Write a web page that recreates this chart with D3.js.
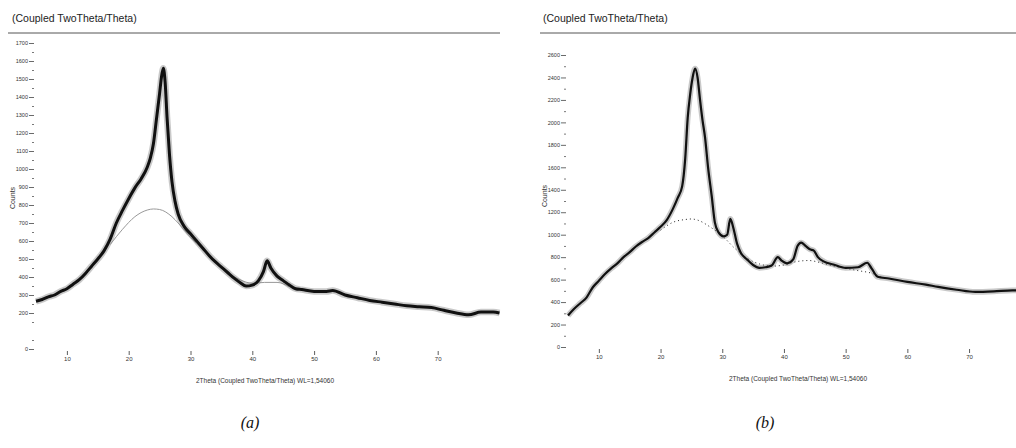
<!DOCTYPE html>
<html>
<head>
<meta charset="utf-8">
<script src="https://cdn.jsdelivr.net/npm/d3@7"></script>
<style>
  body { margin: 0; background: #fff; }
  svg { display: block; }
  text { font-family: "Liberation Sans Narrow", "Liberation Sans", Arial, sans-serif; fill: #222; }
  .caption { font-family: "Liberation Serif", "Times New Roman", serif; font-style: italic; font-size: 16px; fill: #111; }
</style>
</head>
<body>
<svg id="chart" width="1016" height="448"></svg>
<script>
// panel (a) measured pattern
const a_theta = [5, 6, 7, 8, 9, 10, 11, 12, 13, 14, 15, 16, 17, 18, 19, 20, 21, 22, 23, 23.5, 24, 24.5, 25, 25.3, 25.6, 25.9, 26.2, 26.6, 27, 27.5, 28, 29, 30, 31, 32, 33, 34, 35, 36, 37, 38, 39, 40, 41, 41.8, 42.4, 43, 44, 45, 46, 47, 48, 50, 52, 53, 55, 57, 59, 61, 63, 65, 67, 69, 71, 73, 75, 77, 79, 80];
const a_counts = [265, 275, 290, 300, 320, 335, 360, 385, 420, 460, 500, 545, 610, 700, 770, 835, 895, 945, 1010, 1060, 1140, 1280, 1420, 1510, 1560, 1480, 1290, 1080, 930, 820, 750, 680, 640, 600, 560, 520, 485, 455, 425, 395, 370, 350, 355, 380, 430, 490, 450, 405, 380, 355, 335, 330, 320, 320, 325, 300, 285, 270, 260, 250, 240, 235, 230, 215, 200, 190, 205, 205, 200];
// panel (a) amorphous background
const a_bg_theta = [17, 19, 21, 23, 24, 25, 27, 28, 30, 32, 34, 36, 38, 40, 42, 44, 46];
const a_bg_counts = [580, 665, 735, 772, 778, 775, 735, 700, 620, 550, 480, 425, 385, 365, 370, 370, 345];

// panel (b) measured pattern
const b_theta = [5, 6, 7, 8, 9, 10, 11, 12, 13, 14, 15, 16, 17, 18, 19, 20, 21, 22, 22.8, 23.5, 24, 24.4, 24.8, 25.2, 25.6, 26, 26.4, 26.8, 27.2, 27.7, 28.3, 28.8, 29.4, 30.2, 30.8, 31.3, 31.8, 32.4, 33, 34, 35, 36, 37, 38, 39, 39.6, 40.5, 41.5, 42.2, 42.8, 43.5, 44.2, 44.8, 45.5, 46.5, 48, 50, 52, 53.5, 54.2, 55.2, 57, 60, 63, 65, 68, 71, 74, 77, 80];
const b_counts = [280, 340, 390, 440, 530, 590, 650, 700, 745, 800, 845, 895, 935, 970, 1020, 1070, 1130, 1230, 1330, 1430, 1680, 2040, 2250, 2400, 2480, 2400, 2200, 2020, 1870, 1600, 1340, 1110, 1020, 985, 1000, 1140, 1060, 920, 840, 780, 730, 705, 710, 725, 800, 770, 745, 780, 900, 930, 900, 870, 860, 800, 760, 735, 705, 710, 750, 700, 625, 610, 580, 555, 535, 510, 490, 495, 505, 500];
// panel (b) amorphous background
const b_bg_theta = [20, 22, 24, 25, 26, 28, 30, 32, 34, 36, 38, 40, 42, 44, 46, 48, 50, 52, 54, 56];
const b_bg_counts = [1040, 1110, 1135, 1140, 1130, 1070, 990, 880, 790, 740, 720, 730, 760, 770, 750, 720, 700, 680, 660, 620];

const x_ticks = [10, 20, 30, 40, 50, 60, 70];
const a_y_ticks = [0, 200, 300, 400, 500, 600, 700, 800, 900, 1000, 1100, 1200, 1300, 1400, 1500, 1600, 1700];
const b_y_ticks = [0, 200, 400, 600, 800, 1000, 1200, 1400, 1600, 1800, 2000, 2200, 2400, 2600];

const title_text = "(Coupled TwoTheta/Theta)";
const x_title = "2Theta (Coupled TwoTheta/Theta) WL=1,54060";

const svg = d3.select("#chart");
svg.append("rect").attr("width", 1016).attr("height", 448).attr("fill", "#fff");

const draw_panel = (p) => {
  const g = svg.append("g");

  const x = d3.scaleLinear().domain([5, 80]).range([p.x0, p.x0 + 75 * p.xstep]);
  const y = d3.scaleLinear().domain([0, p.ymax]).range([p.ybase, p.ytop]);

  g.append("clipPath").attr("id", "clip-" + p.id)
    .append("rect").attr("x", p.x0 - 5).attr("y", 35).attr("width", 1016 - p.x0 + 5).attr("height", 330);

  // title and rule
  g.append("text").attr("x", p.title_x).attr("y", 22)
    .style("font-size", "10.5px").text(title_text);
  g.append("line")
    .attr("x1", p.rule_x0).attr("x2", p.rule_x1)
    .attr("y1", 33).attr("y2", 33)
    .attr("stroke", "#555").attr("stroke-width", 1);

  // y axis ticks only
  const yaxis = g.append("g").attr("transform", `translate(${p.x0 - 2},0)`)
    .call(d3.axisLeft(y).tickValues(p.yticks).tickSize(5).tickPadding(1).tickFormat(d3.format("d")));
  yaxis.select(".domain").remove();
  yaxis.selectAll("text").style("font-size", "5.5px").style("fill", "#333");
  yaxis.selectAll("line").attr("stroke", "#444").attr("stroke-width", 0.8);
  const yminor = g.append("g").attr("transform", `translate(${p.x0 - 2},0)`)
    .call(d3.axisLeft(y).tickValues(d3.range(p.yminor, p.ymax, p.yminor * 2)).tickSize(2).tickFormat(""));
  yminor.select(".domain").remove();
  yminor.selectAll("line").attr("stroke", "#555").attr("stroke-width", 0.8);

  g.append("text")
    .attr("transform", `translate(${p.counts_x},${p.counts_y}) rotate(-90)`)
    .attr("text-anchor", "middle").style("font-size", "7px").style("fill", "#333")
    .text("Counts");

  // x axis
  const xaxis = g.append("g").attr("transform", `translate(0,${p.ybase + 2})`).attr("clip-path", `url(#clip-${p.id})`)
    .call(d3.axisBottom(x).tickValues(d3.range(6, 80, 2)).tickSize(3).tickFormat(""));
  xaxis.select(".domain").attr("stroke", "#777").attr("stroke-width", 0.8);
  xaxis.selectAll("line").attr("stroke", "#444").attr("stroke-width", 0.8);
  const xlab = g.append("g").attr("transform", `translate(0,${p.ybase + 2})`)
    .call(d3.axisBottom(x).tickValues(x_ticks).tickSize(4).tickPadding(2).tickFormat(d3.format("d")));
  xlab.select(".domain").remove();
  xlab.selectAll("text").style("font-size", "6px").style("fill", "#333");
  xlab.selectAll("line").attr("stroke", "#333").attr("stroke-width", 0.8);

  g.append("text").attr("x", p.xtitle_x).attr("y", p.ybase + 34)
    .attr("text-anchor", "middle").style("font-size", "6.5px").style("fill", "#333")
    .text(x_title);

  const line = d3.line().x((d) => x(d[0])).y((d) => y(d[1])).curve(d3.curveMonotoneX);

  const plot = g.append("g").attr("clip-path", `url(#clip-${p.id})`);

  plot.append("path")
    .attr("d", line(d3.zip(p.bg_theta, p.bg_counts)))
    .attr("fill", "none").attr("stroke", p.bg_color).attr("stroke-width", p.bg_width)
    .attr("stroke-dasharray", p.bg_dash);

  // wide grey halo standing in for the counting noise band
  plot.append("path")
    .attr("d", line(d3.zip(p.theta, p.counts)))
    .attr("fill", "none").attr("stroke", "#777").attr("stroke-width", p.width + 3.5).attr("opacity", 0.4)
    .attr("stroke-linejoin", "round");
  plot.append("path")
    .attr("d", line(d3.zip(p.theta, p.counts)))
    .attr("fill", "none").attr("stroke", "#111").attr("stroke-width", p.width)
    .attr("stroke-linejoin", "round");

  svg.append("text").attr("class", "caption")
    .attr("x", p.caption_x).attr("y", 428).attr("text-anchor", "middle").text(p.caption);
};

draw_panel({
  id: "a", x0: 36, xstep: 6.18, ybase: 349, ytop: 43, ymax: 1700,
  yticks: a_y_ticks, yminor: 50,
  theta: a_theta, counts: a_counts, bg_theta: a_bg_theta, bg_counts: a_bg_counts,
  bg_color: "#999", bg_width: 1, bg_dash: null, width: 3,
  title_x: 12, rule_x0: 8, rule_x1: 500,
  counts_x: 15, counts_y: 198, xtitle_x: 265, caption_x: 250, caption: "(a)"
});

draw_panel({
  id: "b", x0: 568, xstep: 6.17, ybase: 347, ytop: 55, ymax: 2600,
  yticks: b_y_ticks, yminor: 100,
  theta: b_theta, counts: b_counts, bg_theta: b_bg_theta, bg_counts: b_bg_counts,
  bg_color: "#222", bg_width: 1, bg_dash: "1 3", width: 2.2,
  title_x: 543, rule_x0: 540, rule_x1: 1016,
  counts_x: 547, counts_y: 196, xtitle_x: 798, caption_x: 765, caption: "(b)"
});
</script>
</body>
</html>
